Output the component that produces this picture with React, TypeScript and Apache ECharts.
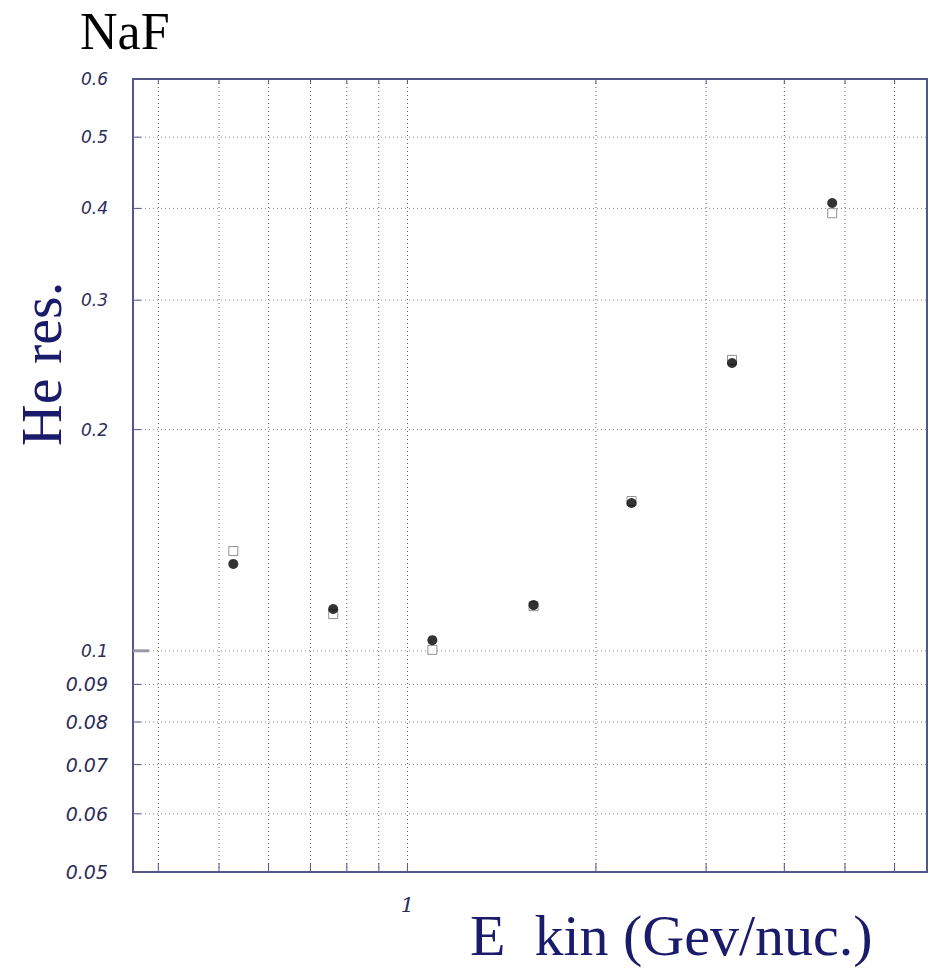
import React, { useEffect, useRef } from "react";
import * as echarts from "echarts";

// Axis ranges (log–log)
const X_MIN = 0.3644;
const X_MAX = 6.76;
const Y_MIN = 0.05;
const Y_MAX = 0.6;

// Grid lines and tick labels
const X_GRID = [0.4, 0.5, 0.6, 0.7, 0.8, 0.9, 1, 2, 3, 4, 5, 6];
const Y_GRID = [0.06, 0.07, 0.08, 0.09, 0.1, 0.2, 0.3, 0.4, 0.5];
const X_LABELS = [1];
const Y_LABELS = [0.05, 0.06, 0.07, 0.08, 0.09, 0.1, 0.2, 0.3, 0.4, 0.5, 0.6];

// Kinetic energy per nucleon (GeV/nuc.) and He resolution
const ENERGY = [0.527, 0.761, 1.096, 1.59, 2.28, 3.3, 4.77];
const RES_FILLED = [0.1313, 0.114, 0.1034, 0.1154, 0.1589, 0.2464, 0.4068];
const RES_OPEN = [0.1367, 0.1122, 0.1003, 0.115, 0.1599, 0.2488, 0.394];

const AXIS_COLOR = "#55558a";
const TITLE_COLOR = "#1b1b6b";
const TICK_TEXT = "#2d2d5a";

function verticalGrid(params: any, api: any) {
  const cs = params.coordSys;
  const x = api.coord([api.value(0), Y_MIN])[0];
  const top = cs.y;
  const bottom = cs.y + cs.height;
  return {
    type: "group",
    children: [
      {
        type: "line",
        shape: { x1: x, y1: top, x2: x, y2: bottom },
        style: { stroke: "#5e5e5e", lineWidth: 1, lineDash: [1, 3] },
      },
      {
        type: "line",
        shape: { x1: x, y1: bottom, x2: x, y2: bottom - 9 },
        style: { stroke: AXIS_COLOR, lineWidth: 1 },
      },
      {
        type: "line",
        shape: { x1: x, y1: top, x2: x, y2: top + 5 },
        style: { stroke: AXIS_COLOR, lineWidth: 1 },
      },
    ],
  };
}

function horizontalGrid(params: any, api: any) {
  const cs = params.coordSys;
  const y = api.coord([X_MIN, api.value(1)])[1];
  const left = cs.x;
  const right = cs.x + cs.width;
  const major = Math.abs(api.value(1) - 0.1) < 1e-9;
  return {
    type: "group",
    children: [
      {
        type: "line",
        shape: { x1: left, y1: y, x2: right, y2: y },
        style: { stroke: "#8a8a8a", lineWidth: 1, lineDash: [1, 3] },
      },
      {
        type: "line",
        shape: { x1: left, y1: y, x2: left + (major ? 16 : 8), y2: y },
        style: { stroke: major ? "#9a9aa8" : AXIS_COLOR, lineWidth: major ? 3 : 1 },
      },
    ],
  };
}

export default function App() {
  const ref = useRef<HTMLDivElement>(null);

  useEffect(() => {
    if (!ref.current) return;
    const chart = echarts.init(ref.current, undefined, { renderer: "svg" });
    chart.setOption({
      animation: false,
      backgroundColor: "#ffffff",
      grid: {
        left: 133,
        top: 79,
        right: 8,
        bottom: 102,
        show: true,
        borderColor: AXIS_COLOR,
        borderWidth: 2,
        backgroundColor: "transparent",
      },
      xAxis: {
        type: "log",
        logBase: 10,
        min: X_MIN,
        max: X_MAX,
        axisLine: { show: false },
        axisTick: { show: false },
        splitLine: { show: false },
        minorTick: { show: false },
        axisLabel: {
          customValues: X_LABELS,
          formatter: (v: number) => String(v),
          margin: 22,
          fontFamily: "DejaVu Serif",
          fontStyle: "italic",
          fontSize: 21,
          color: TICK_TEXT,
        },
      },
      yAxis: {
        type: "log",
        logBase: 10,
        min: Y_MIN,
        max: Y_MAX,
        axisLine: { show: false },
        axisTick: { show: false },
        splitLine: { show: false },
        axisLabel: {
          customValues: Y_LABELS,
          margin: 25,
          formatter: (v: number) => {
            const s = String(parseFloat(v.toPrecision(3)));
            return v < 0.095 ? "{big|" + s + "}" : "{small|" + s + "}";
          },
          rich: {
            big: {
              fontFamily: "DejaVu Sans",
              fontStyle: "italic",
              fontSize: 19,
              color: TICK_TEXT,
            },
            small: {
              fontFamily: "DejaVu Sans",
              fontStyle: "italic",
              fontSize: 17,
              color: TICK_TEXT,
            },
          },
        },
      },
      graphic: [
        {
          type: "text",
          left: 80,
          top: 5,
          style: {
            text: "NaF",
            font: "52px 'Liberation Serif'",
            fill: "#000000",
          },
        },
        {
          type: "text",
          x: 41,
          y: 364,
          rotation: Math.PI / 2,
          style: {
            text: "He res.",
            font: "58px 'Liberation Serif'",
            fill: TITLE_COLOR,
            align: "center",
            verticalAlign: "middle",
          },
        },
        {
          type: "text",
          left: 470,
          top: 906,
          style: {
            text: "E  kin (Gev/nuc.)",
            font: "58px 'Liberation Serif'",
            fill: TITLE_COLOR,
          },
        },
      ],
      series: [
        {
          type: "custom",
          name: "xgrid",
          silent: true,
          clip: false,
          renderItem: verticalGrid,
          data: X_GRID.map((v) => [v, Y_MIN]),
          z: 1,
        },
        {
          type: "custom",
          name: "ygrid",
          silent: true,
          clip: false,
          renderItem: horizontalGrid,
          data: Y_GRID.map((v) => [X_MIN, v]),
          z: 1,
        },
        {
          type: "scatter",
          name: "open",
          symbol: "rect",
          symbolSize: 9,
          itemStyle: { color: "#ffffff", borderColor: "#777777", borderWidth: 1 },
          data: ENERGY.map((e, i) => [e, RES_OPEN[i]]),
          z: 3,
        },
        {
          type: "scatter",
          name: "filled",
          symbol: "circle",
          symbolSize: 10,
          itemStyle: { color: "#000000" },
          data: ENERGY.map((e, i) => [e, RES_FILLED[i]]),
          z: 4,
        },
      ],
    });
    return () => chart.dispose();
  }, []);

  return (
    <div
      ref={ref}
      style={{ position: "absolute", left: 0, top: 0, width: 935, height: 974 }}
    />
  );
}
